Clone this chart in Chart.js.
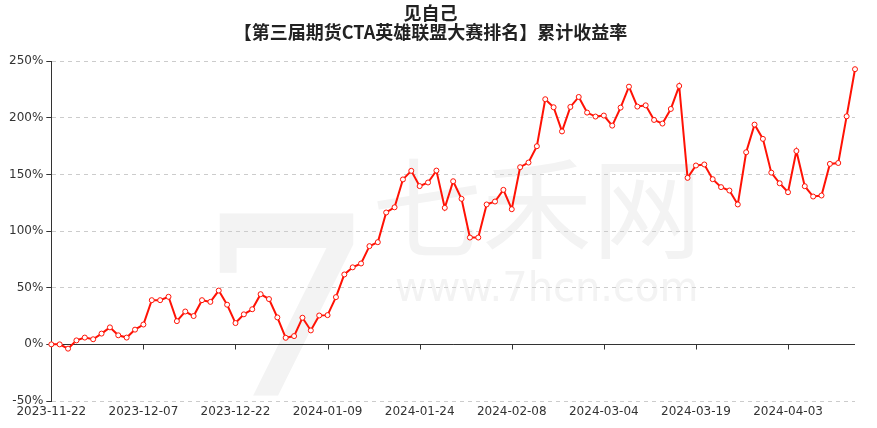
<!DOCTYPE html>
<html>
<head>
<meta charset="utf-8">
<script src="https://cdn.jsdelivr.net/npm/chart.js@4"></script>
<style>
  html, body { margin: 0; padding: 0; background: #fff; }
  #wrap { width: 877px; height: 428px; }
</style>
</head>
<body>
<div id="wrap"><canvas id="c" width="877" height="428"></canvas></div>
<script>
// ---------- data ----------
const dates = [
  '2023-11-22','2023-11-23','2023-11-24','2023-11-27','2023-11-28','2023-11-29','2023-11-30','2023-12-01',
  '2023-12-04','2023-12-05','2023-12-06','2023-12-07','2023-12-08','2023-12-11','2023-12-12','2023-12-13',
  '2023-12-14','2023-12-15','2023-12-18','2023-12-19','2023-12-20','2023-12-21','2023-12-22','2023-12-25',
  '2023-12-26','2023-12-27','2023-12-28','2023-12-29','2024-01-02','2024-01-03','2024-01-04','2024-01-05',
  '2024-01-08','2024-01-09','2024-01-10','2024-01-11','2024-01-12','2024-01-15','2024-01-16','2024-01-17',
  '2024-01-18','2024-01-19','2024-01-22','2024-01-23','2024-01-24','2024-01-25','2024-01-26','2024-01-29',
  '2024-01-30','2024-01-31','2024-02-01','2024-02-02','2024-02-05','2024-02-06','2024-02-07','2024-02-08',
  '2024-02-19','2024-02-20','2024-02-21','2024-02-22','2024-02-23','2024-02-26','2024-02-27','2024-02-28',
  '2024-02-29','2024-03-01','2024-03-04','2024-03-05','2024-03-06','2024-03-07','2024-03-08','2024-03-11',
  '2024-03-12','2024-03-13','2024-03-14','2024-03-15','2024-03-18','2024-03-19','2024-03-20','2024-03-21',
  '2024-03-22','2024-03-25','2024-03-26','2024-03-27','2024-03-28','2024-03-29','2024-04-01','2024-04-02',
  '2024-04-03','2024-04-08','2024-04-09','2024-04-10','2024-04-11','2024-04-12','2024-04-15','2024-04-16',
  '2024-04-17'
];
// cumulative return, %
const returns = [
  0, 0, -3.8, 3.5, 6, 4.5, 9.5, 15, 8, 6, 13, 17.5, 39, 39, 42, 20.5, 29, 25, 39, 37.5, 47.5, 35,
  18.8, 26.5, 31, 44.3, 40, 23.8, 5.8, 7.3, 23.5, 12.3, 25.5, 25.8, 41.7, 61.7, 68, 71.4, 86.7, 90.2, 116.4, 121,
  145.6, 153.2, 139.7, 142.9, 153.4, 120.5, 144, 128.5, 94.3, 94.3, 123.5, 126.1, 136.4, 119.3, 156.4, 160.5, 174.9, 216.4, 209.3,
  188, 209.6, 218.4, 204.6, 201.1, 202, 193.1, 209, 227.5, 209.9, 211, 198.1, 194.9, 207.8, 228.1, 147, 157.9, 158.8, 145.8,
  138.8, 135.8, 123.5, 169.6, 194, 181.4, 151.6, 142.2, 134.3, 170.7, 139.6, 130.5, 131.4, 159.3, 160.1, 201.3, 242.9
];
const yTicks = [-50, 0, 50, 100, 150, 200, 250];
const labelEvery = 11;

const FONT = "'DejaVu Sans', sans-serif";

// ---------- watermark, zero line, zero-line ticks ----------
const decor = {
  id: 'decor',
  beforeDraw (chart) {
    const { ctx } = chart;
    ctx.save();
    ctx.fillStyle = '#f3f3f3';
    ctx.textBaseline = 'alphabetic';
    ctx.textAlign = 'left';
    ctx.font = "bold 250px 'DejaVu Serif', serif";
    ctx.fillText('7', 200, 395);
    ctx.font = "110px 'Noto Sans CJK SC', sans-serif";
    ctx.fillText('七禾网', 372, 250);
    ctx.font = "40px 'DejaVu Sans', sans-serif";
    ctx.fillText('www.7hcn.com', 395, 301);
    ctx.restore();
  },
  beforeDatasetsDraw (chart) {
    const { ctx, chartArea: a, scales: { x, y } } = chart;
    const y0 = Math.round(y.getPixelForValue(0)) + 0.5;
    ctx.save();
    ctx.strokeStyle = '#333';
    ctx.lineWidth = 1;
    ctx.beginPath();
    ctx.moveTo(a.left, y0);
    ctx.lineTo(a.right, y0);
    dates.forEach((d, i) => {
      if (i === 0 || i % labelEvery) return;
      const px = Math.round(x.getPixelForValue(i)) + 0.5;
      ctx.moveTo(px, y0);
      ctx.lineTo(px, y0 + 5);
    });
    ctx.stroke();
    ctx.restore();
  }
};

new Chart(document.getElementById('c'), {
  type: 'line',
  data: {
    labels: dates,
    datasets: [{
      data: returns,
      borderColor: '#ff1205',
      borderWidth: 2,
      backgroundColor: '#fff',
      pointRadius: 2.5,
      pointBorderWidth: 1,
      pointBorderColor: '#ff1205',
      pointBackgroundColor: '#fff',
      tension: 0
    }]
  },
  options: {
    responsive: false,
    animation: false,
    layout: { padding: { left: 6, right: 22, top: 4, bottom: 0 } },
    plugins: {
      legend: { display: false },
      tooltip: { enabled: false },
      title: {
        display: true,
        text: ['见自己', '【第三届期货CTA英雄联盟大赛排名】累计收益率'],
        color: '#222',
        font: { family: "'Noto Sans CJK SC', sans-serif", size: 18, weight: 'bold', lineHeight: 1.06 },
        padding: { top: 0, bottom: 19 }
      }
    },
    scales: {
      x: {
        offset: false,
        afterFit: s => { s.height = 27; },
        grid: { display: false, drawTicks: false },
        border: { display: false },
        ticks: {
          autoSkip: false,
          maxRotation: 0,
          padding: 4,
          color: '#333',
          font: { family: FONT, size: 12 },
          callback: (v, i) => (i % labelEvery === 0 ? dates[i] : '')
        }
      },
      y: {
        min: yTicks[0],
        max: yTicks[yTicks.length - 1],
        afterBuildTicks: s => { s.ticks = yTicks.map(v => ({ value: v })); },
        grid: { color: '#ccc', tickColor: '#333', tickLength: 5 },
        border: { display: true, color: '#333', dash: [4, 4] },
        ticks: {
          padding: 3,
          color: '#333',
          font: { family: FONT, size: 12 },
          callback: v => v + '%'
        }
      }
    }
  },
  plugins: [decor]
});
</script>
</body>
</html>
